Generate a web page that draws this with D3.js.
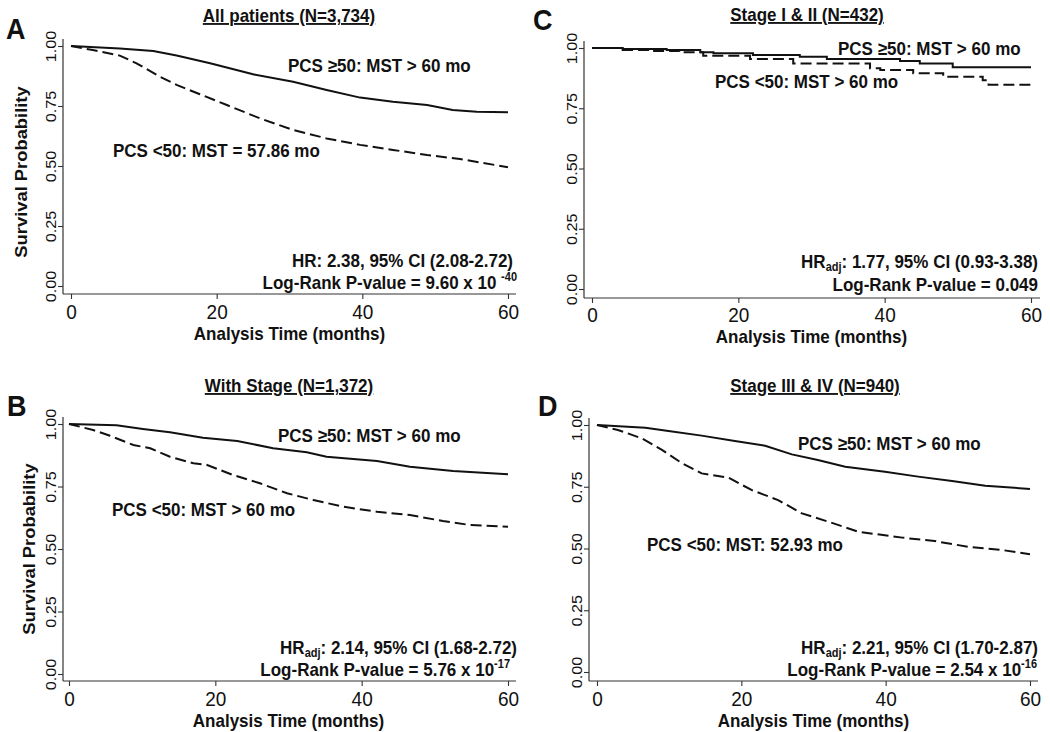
<!DOCTYPE html>
<html><head><meta charset="utf-8">
<script src="https://cdn.jsdelivr.net/npm/d3@7/dist/d3.min.js"></script>
<style>body{margin:0;background:#fff}svg{display:block}text{font-family:"Liberation Sans",Arial,sans-serif;fill:#111}</style>
</head><body><svg id="c" width="1050" height="732"></svg>
<script>
// ---- data ----
const monthTicks = [0, 20, 40, 60];
const probTicks = [0, 0.25, 0.5, 0.75, 1];
const panelLetters = ["A", "B", "C", "D"];
const panelTitles = ["All patients (N=3,734)", "With Stage (N=1,372)", "Stage I & II (N=432)", "Stage III & IV (N=940)"];
const highLabels = ["PCS \u226550: MST > 60 mo", "PCS \u226550: MST > 60 mo", "PCS \u226550: MST > 60 mo", "PCS \u226550: MST > 60 mo"];
const lowLabels = ["PCS <50: MST = 57.86 mo", "PCS <50: MST > 60 mo", "PCS <50: MST > 60 mo", "PCS <50: MST: 52.93 mo"];
const hrSub = ["", "adj", "adj", "adj"];
const hrText = [": 2.38, 95% CI (2.08-2.72)", ": 2.14, 95% CI (1.68-2.72)", ": 1.77, 95% CI (0.93-3.38)", ": 2.21, 95% CI (1.70-2.87)"];
const pText = ["Log-Rank P-value = 9.60 x 10 ", "Log-Rank P-value = 5.76 x 10", "Log-Rank P-value = 0.049", "Log-Rank P-value = 2.54 x 10"];
const pExp = ["-40", "-17", "", "-16"];

// Panel A
const aHighT = [0, 6.7, 11.3, 14.5, 19.1, 25, 30.5, 35.1, 39.7, 44.2, 48.9, 52.4, 55.7, 60];
const aHighS = [1, 0.99, 0.979, 0.96, 0.928, 0.882, 0.851, 0.817, 0.785, 0.768, 0.754, 0.733, 0.726, 0.724];
const aLowT = [0, 3, 6.7, 9, 12.2, 14.5, 17.7, 21.4, 25.9, 30.5, 35.1, 39.7, 44.2, 48.9, 53.4, 60];
const aLowS = [1, 0.983, 0.96, 0.928, 0.872, 0.838, 0.799, 0.754, 0.699, 0.65, 0.615, 0.588, 0.567, 0.546, 0.529, 0.495];
// Panel B
const bHighT = [0, 6.5, 10.1, 13.8, 18.3, 23, 27.9, 32.5, 35.2, 42.1, 46.6, 52.5, 60];
const bHighS = [1, 0.995, 0.98, 0.967, 0.945, 0.932, 0.903, 0.887, 0.869, 0.852, 0.829, 0.812, 0.799];
const bLowT = [0, 3.3, 5.6, 8.8, 11.1, 13.8, 17, 18.8, 22.4, 26.1, 29.8, 33.4, 37.5, 42.1, 46.6, 51.1, 54.8, 60];
const bLowS = [1, 0.976, 0.953, 0.916, 0.903, 0.869, 0.843, 0.837, 0.796, 0.763, 0.723, 0.696, 0.669, 0.649, 0.636, 0.612, 0.596, 0.589];
// Panel C (step curves)
const cHighT = [0, 4.2, 10.2, 14.8, 16.6, 22, 28.4, 32.1, 42.1, 44.8, 49.3, 60];
const cHighS = [1, 0.996, 0.992, 0.982, 0.978, 0.971, 0.964, 0.954, 0.946, 0.936, 0.92, 0.92];
const cLowT = [0, 4.2, 8.3, 12, 15.2, 21.6, 27.5, 38, 39.4, 43.9, 48, 53.4, 54.2, 60];
const cLowS = [1, 0.992, 0.988, 0.982, 0.968, 0.954, 0.936, 0.916, 0.909, 0.895, 0.881, 0.866, 0.848, 0.848];
// Panel D
const dHighT = [0, 6.7, 9.9, 14.5, 19.1, 23.3, 27, 30.6, 34.4, 39.9, 44.5, 49.2, 53.8, 60];
const dHighS = [1, 0.989, 0.976, 0.957, 0.935, 0.916, 0.881, 0.858, 0.831, 0.811, 0.791, 0.773, 0.754, 0.741];
const dLowT = [0, 2.9, 6.2, 9, 11.8, 14.5, 18.2, 21.4, 25.1, 28.4, 32, 36.2, 42.3, 46.8, 51.4, 56.1, 60];
const dLowS = [1, 0.98, 0.946, 0.899, 0.845, 0.804, 0.787, 0.737, 0.696, 0.642, 0.609, 0.568, 0.544, 0.53, 0.507, 0.494, 0.477];

const curves = [
  {hiT: aHighT, hiS: aHighS, loT: aLowT, loS: aLowS, step: false},
  {hiT: bHighT, hiS: bHighS, loT: bLowT, loS: bLowS, step: false},
  {hiT: cHighT, hiS: cHighS, loT: cLowT, loS: cLowS, step: true},
  {hiT: dHighT, hiS: dHighS, loT: dLowT, loS: dLowS, step: false}
];

// ---- layout ----
const layout = [
  {x0: 71, x1: 508, y1: 46, y0: 286, ax: 63, ay: 294, right: 516, letter: [6, 39], title: [289, 22], ylab: [27, 172],
   hi: [288, 72], lo: [113, 157], hr: [513, 267], pv: [517, 289], xt: 25, xl: 46},
  {x0: 69, x1: 508, y1: 424, y0: 674, ax: 63, ay: 681, right: 516, letter: [7, 416], title: [289, 392], ylab: [35, 549],
   hi: [278, 442], lo: [112, 516], hr: [517, 654], pv: [510, 676], xt: 25, xl: 46},
  {x0: 592, x1: 1031, y1: 48, y0: 289, ax: 584, ay: 298, right: 1040, letter: [533, 30], title: [807, 21], ylab: null,
   hi: [838, 55], lo: [715, 88], hr: [1038, 268], pv: [1038, 291], xt: 24, xl: 45},
  {x0: 597, x1: 1030, y1: 425, y0: 672, ax: 589, ay: 681, right: 1038, letter: [538, 416], title: [815, 392], ylab: null,
   hi: [798, 450], lo: [647, 551], hr: [1038, 654], pv: [1037, 676], xt: 25, xl: 46}
];

const svg = d3.select("#c");
const FS = 17;
const SY = 1.08; // slight vertical stretch of the lettering
const FF = '"Liberation Sans",Arial,sans-serif';

function txt(g, x, y, extra) {
  return g.append("text").attr("transform", `translate(${x},${y}) scale(1,${SY})${extra || ""}`);
}

layout.forEach((L, i) => {
  const g = svg.append("g");
  const x = d3.scaleLinear().domain([0, 60]).range([L.x0, L.x1]);
  const y = d3.scaleLinear().domain([0, 1]).range([L.y0, L.y1]);
  const top = L.y1 - 7;

  // axis lines
  g.append("line").attr("x1", L.ax).attr("x2", L.ax).attr("y1", top).attr("y2", L.ay)
    .attr("stroke", "#333").attr("stroke-width", 1.2);
  g.append("line").attr("x1", L.ax).attr("x2", L.right).attr("y1", L.ay).attr("y2", L.ay)
    .attr("stroke", "#333").attr("stroke-width", 1.2);

  // y axis
  const ya = g.append("g").attr("transform", `translate(${L.ax},0)`)
    .call(d3.axisLeft(y).tickValues(probTicks).tickFormat(d3.format(".2f")).tickSize(5));
  ya.select(".domain").remove();
  ya.selectAll(".tick line").attr("stroke", "#333").attr("stroke-width", 1.1);
  ya.selectAll(".tick text").attr("x", 0).attr("y", 0).attr("dy", 0)
    .attr("transform", `translate(-7,0) scale(1,${SY}) rotate(-90)`)
    .attr("text-anchor", "middle").style("font-size", "15px").style("font-family", FF).attr("fill", "#222");

  // x axis
  const xa = g.append("g").attr("transform", `translate(0,${L.ay})`)
    .call(d3.axisBottom(x).tickValues(monthTicks).tickSize(5));
  xa.select(".domain").remove();
  xa.selectAll(".tick line").attr("stroke", "#333").attr("stroke-width", 1.1);
  xa.selectAll(".tick text").attr("y", 0).attr("dy", 0)
    .attr("transform", `translate(0,${L.xt}) scale(1,${SY})`)
    .style("font-size", "19px").style("font-family", FF).attr("fill", "#222");

  // x label
  txt(g, (L.x0 + L.x1) / 2, L.ay + L.xl).attr("text-anchor", "middle")
    .attr("font-weight", "bold").attr("font-size", FS).text("Analysis Time (months)");

  // y label
  if (L.ylab) {
    txt(g, L.ylab[0], L.ylab[1], " rotate(-90)")
      .attr("text-anchor", "middle").attr("font-weight", "bold").attr("font-size", FS).text("Survival Probability");
  }

  // letter & title
  txt(g, L.letter[0], L.letter[1]).attr("font-weight", "bold").attr("font-size", 27).text(panelLetters[i]);
  txt(g, L.title[0], L.title[1]).attr("text-anchor", "middle")
    .attr("font-weight", "bold").attr("font-size", FS).attr("text-decoration", "underline").text(panelTitles[i]);

  // curves
  const C = curves[i];
  const line = d3.line().x(d => x(d[0])).y(d => y(d[1]))
    .curve(C.step ? d3.curveStepAfter : d3.curveLinear);
  g.append("path").datum(d3.zip(C.hiT, C.hiS)).attr("d", line)
    .attr("fill", "none").attr("stroke", "#111").attr("stroke-width", 2);
  g.append("path").datum(d3.zip(C.loT, C.loS)).attr("d", line)
    .attr("fill", "none").attr("stroke", "#111").attr("stroke-width", 2).attr("stroke-dasharray", "11,5");

  // annotations
  txt(g, L.hi[0], L.hi[1]).attr("font-weight", "bold").attr("font-size", FS).text(highLabels[i]);
  txt(g, L.lo[0], L.lo[1]).attr("font-weight", "bold").attr("font-size", FS).text(lowLabels[i]);

  const hr = txt(g, L.hr[0], L.hr[1]).attr("text-anchor", "end")
    .attr("font-weight", "bold").attr("font-size", FS);
  hr.append("tspan").text("HR");
  if (hrSub[i]) hr.append("tspan").attr("font-size", 11).attr("dy", 3).text(hrSub[i]);
  hr.append("tspan").attr("dy", hrSub[i] ? -3 : 0).text(hrText[i]);

  const pv = txt(g, L.pv[0], L.pv[1]).attr("text-anchor", "end")
    .attr("font-weight", "bold").attr("font-size", FS);
  pv.append("tspan").text(pText[i]);
  if (pExp[i]) pv.append("tspan").attr("font-size", 11).attr("dy", -7).text(pExp[i]);
});
</script></body></html>
